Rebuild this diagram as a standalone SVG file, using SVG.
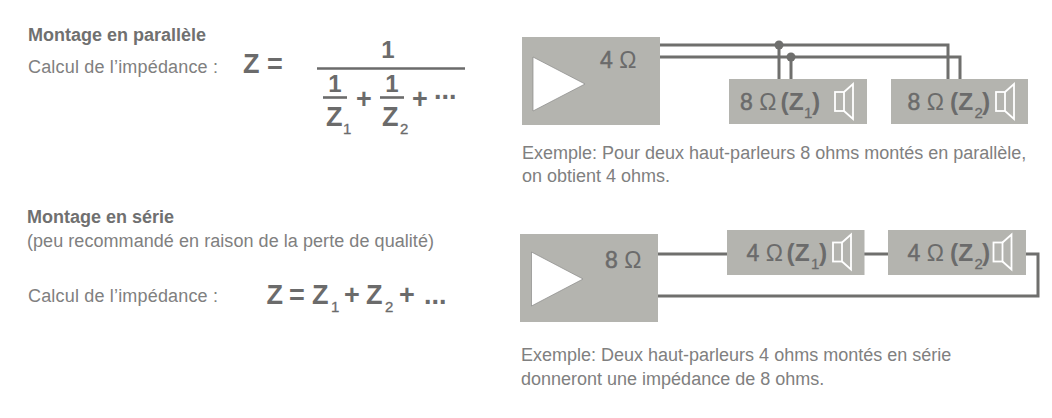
<svg xmlns="http://www.w3.org/2000/svg" width="1052" height="418" viewBox="0 0 1052 418">
<style>
text{font-family:"Liberation Sans",Arial,sans-serif}
.t{font-size:18px;fill:#808080}
.h{font-size:18px;font-weight:bold;fill:#707070}
.f{font-size:27px;font-weight:bold;fill:#6b6b6b}
.n{font-size:23px;fill:#6b6b6b}
.b{font-size:24.500px;font-weight:bold}
.d{stroke:#6b6b6b;stroke-width:.5}
.g{font-size:4px}
.sub{font-size:15px;font-weight:normal;stroke:#6b6b6b;stroke-width:.3}
.box{fill:#b4b4af}
.tri{fill:#fff;stroke:#8a8a88;stroke-width:.7}
.spk{fill:none;stroke:#fff;stroke-width:1.8}
.w{fill:none;stroke:#6f6f6d;stroke-width:3}
.bar{stroke:#6b6b6b;stroke-width:2.6;fill:none}
.dot{fill:#6f6f6d}
</style>
<defs>
<g id="speaker"><rect class="spk" x="0" y="8" width="9" height="19"/><path class="spk" d="M9 8L18 0V35L9 27"/></g>
</defs>
<g id="text-parallel">
<text class="h" x="28" y="40.500">Montage en parallèle</text>
<text class="t" x="28" y="73" textLength="190">Calcul de l’impédance :</text>
<text class="f" x="243" y="73">Z <tspan x="267">=</tspan></text>
<text class="f" x="388" y="58" text-anchor="middle" style="font-size:24px">1</text>
<line class="bar" x1="317" y1="68.500" x2="465" y2="68.500"/>
<text class="f" x="335" y="92" text-anchor="middle" style="font-size:24px">1</text>
<line class="bar" x1="323" y1="97.500" x2="347" y2="97.500"/>
<text class="f" x="326" y="126">Z<tspan class="sub" x="343" y="134">1</tspan></text>
<text class="f" x="356" y="108">+</text>
<text class="f" x="392" y="92" text-anchor="middle" style="font-size:24px">1</text>
<line class="bar" x1="380" y1="97.500" x2="404" y2="97.500"/>
<text class="f" x="382" y="126">Z<tspan class="sub" x="400" y="134">2</tspan></text>
<text class="f" x="412" y="108">+</text><text class="f" x="434" y="99">...</text>
</g>
<g id="text-serie">
<text class="h" x="27" y="222.500">Montage en série</text>
<text class="t" x="27" y="247" textLength="407">(peu recommandé en raison de la perte de qualité)</text>
<text class="t" x="28" y="301.500" textLength="190">Calcul de l’impédance :</text>
<text class="f" x="266.500" y="303.500">Z <tspan x="289">=</tspan> <tspan x="312">Z</tspan><tspan class="sub" x="331" y="312">1</tspan> <tspan x="344" y="303.500">+</tspan> <tspan x="366">Z</tspan><tspan class="sub" x="385" y="312">2</tspan> <tspan x="399" y="303.500">+</tspan> <tspan x="424">...</tspan></text>
</g>
<g id="connectors">
<path class="w" d="M660 45H948V79"/>
<path class="w" d="M660 57H960V79"/>
<path class="w" d="M779 45V79"/>
<path class="w" d="M791 57V79"/>
<circle class="dot" cx="779" cy="45" r="4.500"/>
<circle class="dot" cx="791" cy="57" r="4.500"/>
<path class="w" d="M658 254H727"/>
<path class="w" d="M864 254H888"/>
<path class="w" d="M1026 254H1038V296H658"/>
</g>
<g id="amp-parallel">
<rect class="box" x="522" y="37" width="138" height="88"/>
<path class="tri" d="M533 57L585 84L533 111Z"/>
<text class="n" x="600" y="67.500"><tspan class="d">4</tspan> Ω</text>
</g>
<g id="hp-parallel-1">
<rect class="box" x="729" y="79" width="138" height="45"/>
<text class="n" x="740" y="110"><tspan class="d">8</tspan> Ω<tspan class="g"> </tspan><tspan class="b" x="780.500">(</tspan><tspan class="b" x="788.700">Z</tspan><tspan class="sub" x="804" y="118">1</tspan><tspan class="b" x="812" y="110">)</tspan></text>
<use href="#speaker" x="835" y="84"/>
</g>
<g id="hp-parallel-2">
<rect class="box" x="891" y="79" width="137" height="45"/>
<text class="n" x="907.500" y="110"><tspan class="d">8</tspan> Ω<tspan class="g"> </tspan><tspan class="b" x="950">(</tspan><tspan class="b" x="958.200">Z</tspan><tspan class="sub" x="974.500" y="118">2</tspan><tspan class="b" x="982" y="110">)</tspan></text>
<use href="#speaker" x="996" y="84"/>
</g>
<g id="amp-serie">
<rect class="box" x="520" y="234" width="138" height="88"/>
<path class="tri" d="M531.500 252L583 279L531.500 306Z"/>
<text class="n" x="605" y="267.500"><tspan class="d">8</tspan> Ω</text>
</g>
<g id="hp-serie-1">
<rect class="box" x="727" y="230" width="137.500" height="45"/>
<text class="n" x="746.500" y="261"><tspan class="d">4</tspan> Ω<tspan class="g"> </tspan><tspan class="b" x="786.500">(</tspan><tspan class="b" x="794.700">Z</tspan><tspan class="sub" x="811" y="268.500">1</tspan><tspan class="b" x="819" y="261">)</tspan></text>
<use href="#speaker" x="833" y="234.500"/>
</g>
<g id="hp-serie-2">
<rect class="box" x="888" y="230" width="138" height="45"/>
<text class="n" x="907.500" y="261"><tspan class="d">4</tspan> Ω<tspan class="g"> </tspan><tspan class="b" x="950">(</tspan><tspan class="b" x="958.200">Z</tspan><tspan class="sub" x="974.500" y="268.500">2</tspan><tspan class="b" x="982" y="261">)</tspan></text>
<use href="#speaker" x="993.500" y="234.500"/>
</g>
<g id="captions">
<text class="t" x="522" y="159">Exemple: Pour deux haut-parleurs 8 ohms montés en parallèle,</text>
<text class="t" x="522" y="182">on obtient 4 ohms.</text>
<text class="t" x="521" y="361">Exemple: Deux haut-parleurs 4 ohms montés en série</text>
<text class="t" x="521" y="385">donneront une impédance de 8 ohms.</text>
</g>
</svg>
